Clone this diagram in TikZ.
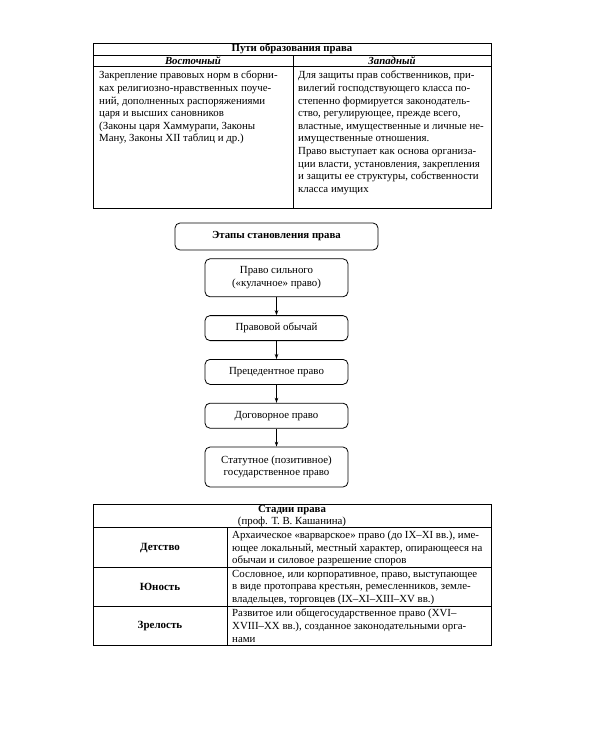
\documentclass[tikz,border=0pt]{standalone}
\usepackage{fontspec}
\setmainfont{Liberation Serif}
\usetikzlibrary{positioning,arrows.meta}

\begin{document}
\begin{tikzpicture}[x=1pt, y=-1pt,
    node distance=18pt,
    every node/.style={font=\fontsize{10.85}{12.6}\selectfont},
    cell/.style={inner sep=0pt, align=left, anchor=north west},
    head/.style={inner sep=0pt, font=\fontsize{10.8}{11}\selectfont\bfseries},
    label/.style={inner sep=0pt, font=\fontsize{11}{12.6}\selectfont\bfseries},
    stage/.style={rectangle, draw, rounded corners=5pt, minimum width=143pt,
                  minimum height=25pt, align=center, line width=0.8pt},
    arrow/.style={-{Stealth[length=5pt,width=3.5pt]}, line width=0.8pt}
]
\useasboundingbox (0,0) rectangle (600,750);

\draw[line width=0.8pt] (93,43) rectangle (491,208);
\draw[line width=0.7pt] (93,55) -- (491,55) (93,66) -- (491,66) (293,55) -- (293,208);
\node[head] (ways) at (292,49) {Пути образования права};
\node[head, font=\fontsize{10.8}{11}\selectfont\bfseries\itshape] (east) at (193,60.5) {Восточный};
\node[head, font=\fontsize{10.8}{11}\selectfont\bfseries\itshape] (west) at (392,60.5) {Западный};
\node[cell] (eastText) at (99,71) {Закрепление правовых норм в сборни-\\ках религиозно-нравственных поуче-\\ний, дополненных распоряжениями\\царя и высших сановников\\(Законы царя Хаммурапи, Законы\\Ману, Законы XII таблиц и др.)};
\node[cell] (westText) at (298,71) {Для защиты прав собственников, при-\\вилегий господствующего класса по-\\степенно формируется законодатель-\\ство, регулирующее, прежде всего,\\властные, имущественные и личные не-\\имущественные отношения.\\Право выступает как основа организа-\\ции власти, установления, закрепления\\и защиты ее структуры, собственности\\класса имущих};

\node[stage, minimum width=203pt, minimum height=27pt, font=\fontsize{10.8}{12.6}\selectfont\bfseries] (stages) at (276.5,236.5) {Этапы становления права};
\node[stage, minimum height=38pt, below=8pt of stages] (force) {Право сильного\\(«кулачное» право)};
\node[stage, below=of force] (custom) {Правовой обычай};
\node[stage, below=of custom] (precedent) {Прецедентное право};
\node[stage, below=of precedent] (contract) {Договорное право};
\node[stage, minimum height=40pt, below=of contract] (statute) {Статутное (позитивное)\\государственное право};

\draw[arrow] (force) -- (custom);
\draw[arrow] (custom) -- (precedent);
\draw[arrow] (precedent) -- (contract);
\draw[arrow] (contract) -- (statute);

\draw[line width=0.8pt] (93,504) rectangle (491,645);
\draw[line width=0.7pt] (93,527) -- (491,527) (93,567) -- (491,567) (93,606) -- (491,606) (227,527) -- (227,645);
\node[head] (phases) at (292,510.5) {Стадии права};
\node[inner sep=0pt] (author) at (292,521.5) {(проф. Т. В. Кашанина)};
\node[label] (child) at (160,548) {Детство};
\node[label] (youth) at (160,587) {Юность};
\node[label] (mature) at (160,626) {Зрелость};
\node[cell] (childText) at (232,531) {Архаическое «варварское» право (до IX–XI вв.), име-\\ющее локальный, местный характер, опирающееся на\\обычаи и силовое разрешение споров};
\node[cell] (youthText) at (232,570) {Сословное, или корпоративное, право, выступающее\\в виде протоправа крестьян, ремесленников, земле-\\владельцев, торговцев (IX–XI–XIII–XV вв.)};
\node[cell] (matureText) at (232,609) {Развитое или общегосударственное право (XVI–\\XVIII–XX вв.), созданное законодательными орга-\\нами};
\end{tikzpicture}
\end{document}
